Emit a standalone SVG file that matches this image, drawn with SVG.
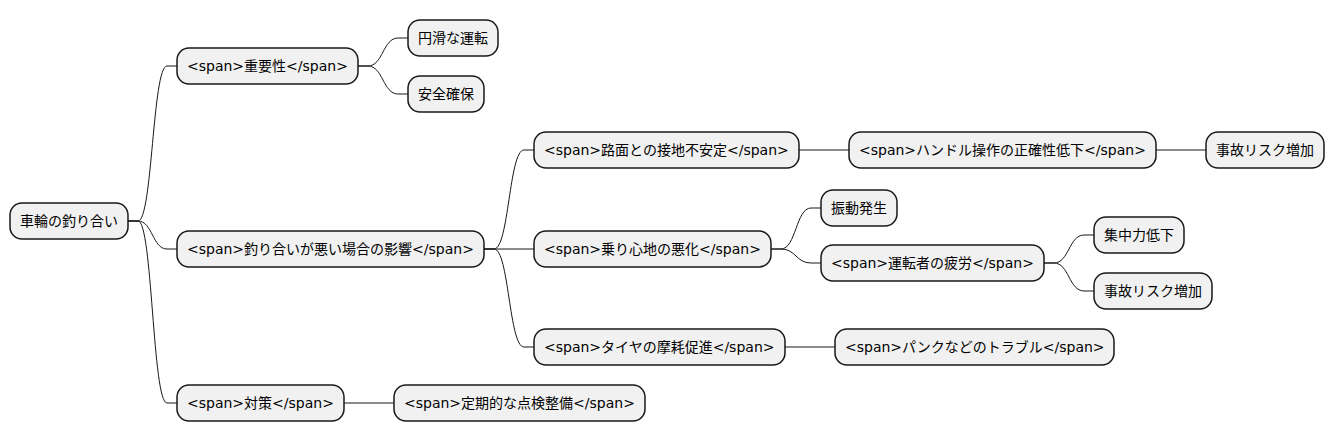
<svg xmlns="http://www.w3.org/2000/svg" width="1335" height="443" viewBox="0 0 1335 443">
<style>
.n rect{fill:#F1F1F1;stroke:#181818;stroke-width:1.5}
.n text{font-family:"DejaVu Sans","Noto Sans CJK JP",sans-serif;font-size:14px;fill:#000}
.c path{fill:none;stroke:#181818;stroke-width:1}
</style>
<rect width="1335" height="443" fill="#FFFFFF"/>
<g class="c" id="connectors">
<path d="M128,221 L138,221 C152.5,221 152.5,66 167,66 L177,66"/>
<path d="M128,221 L138,221 C152.5,221 152.5,249 167,249 L177,249"/>
<path d="M128,221 L138,221 C152.5,221 152.5,403 167,403 L177,403"/>
<path d="M358,66 L368,66 C383,66 383,38 398,38 L408,38"/>
<path d="M358,66 L368,66 C383,66 383,94 398,94 L408,94"/>
<path d="M484,249 L494,249 C509,249 509,150 524,150 L534,150"/>
<path d="M484,249 L534,249"/>
<path d="M484,249 L494,249 C509,249 509,347 524,347 L534,347"/>
<path d="M799,150 L849,150"/>
<path d="M1156,150 L1206,150"/>
<path d="M771,249 L781,249 C796,249 796,208 811,208 L821,208"/>
<path d="M771,249 L781,249 C796,249 796,263 811,263 L821,263"/>
<path d="M1044,263 L1054,263 C1069,263 1069,235 1084,235 L1094,235"/>
<path d="M1044,263 L1054,263 C1069,263 1069,291 1084,291 L1094,291"/>
<path d="M785,347 L835,347"/>
<path d="M344,403 L394,403"/>
</g>
<g class="n" id="root"><rect x="10" y="203" width="118" height="36" rx="12" ry="12"/><text x="20" y="226.3">車輪の釣り合い</text></g>
<g class="n" id="juyousei"><rect x="177" y="48" width="181" height="36" rx="12" ry="12"/><text x="187" y="71.3">&lt;span&gt;重要性&lt;/span&gt;</text></g>
<g class="n" id="enkatsu"><rect x="408" y="20" width="90" height="36" rx="12" ry="12"/><text x="418" y="43.3">円滑な運転</text></g>
<g class="n" id="anzen"><rect x="408" y="76" width="76" height="36" rx="12" ry="12"/><text x="418" y="99.3">安全確保</text></g>
<g class="n" id="eikyou"><rect x="177" y="231" width="307" height="36" rx="12" ry="12"/><text x="187" y="254.3">&lt;span&gt;釣り合いが悪い場合の影響&lt;/span&gt;</text></g>
<g class="n" id="romen"><rect x="534" y="132" width="265" height="36" rx="12" ry="12"/><text x="544" y="155.3">&lt;span&gt;路面との接地不安定&lt;/span&gt;</text></g>
<g class="n" id="handle"><rect x="849" y="132" width="307" height="36" rx="12" ry="12"/><text x="859" y="155.3">&lt;span&gt;ハンドル操作の正確性低下&lt;/span&gt;</text></g>
<g class="n" id="jiko1"><rect x="1206" y="132" width="118" height="36" rx="12" ry="12"/><text x="1216" y="155.3">事故リスク増加</text></g>
<g class="n" id="norigokochi"><rect x="534" y="231" width="237" height="36" rx="12" ry="12"/><text x="544" y="254.3">&lt;span&gt;乗り心地の悪化&lt;/span&gt;</text></g>
<g class="n" id="shindou"><rect x="821" y="190" width="76" height="36" rx="12" ry="12"/><text x="831" y="213.3">振動発生</text></g>
<g class="n" id="hirou"><rect x="821" y="245" width="223" height="36" rx="12" ry="12"/><text x="831" y="268.3">&lt;span&gt;運転者の疲労&lt;/span&gt;</text></g>
<g class="n" id="shuuchuu"><rect x="1094" y="217" width="90" height="36" rx="12" ry="12"/><text x="1104" y="240.3">集中力低下</text></g>
<g class="n" id="jiko2"><rect x="1094" y="273" width="118" height="36" rx="12" ry="12"/><text x="1104" y="296.3">事故リスク増加</text></g>
<g class="n" id="tire"><rect x="534" y="329" width="251" height="36" rx="12" ry="12"/><text x="544" y="352.3">&lt;span&gt;タイヤの摩耗促進&lt;/span&gt;</text></g>
<g class="n" id="punk"><rect x="835" y="329" width="279" height="36" rx="12" ry="12"/><text x="845" y="352.3">&lt;span&gt;パンクなどのトラブル&lt;/span&gt;</text></g>
<g class="n" id="taisaku"><rect x="177" y="385" width="167" height="36" rx="12" ry="12"/><text x="187" y="408.3">&lt;span&gt;対策&lt;/span&gt;</text></g>
<g class="n" id="teiki"><rect x="394" y="385" width="251" height="36" rx="12" ry="12"/><text x="404" y="408.3">&lt;span&gt;定期的な点検整備&lt;/span&gt;</text></g>
</svg>
